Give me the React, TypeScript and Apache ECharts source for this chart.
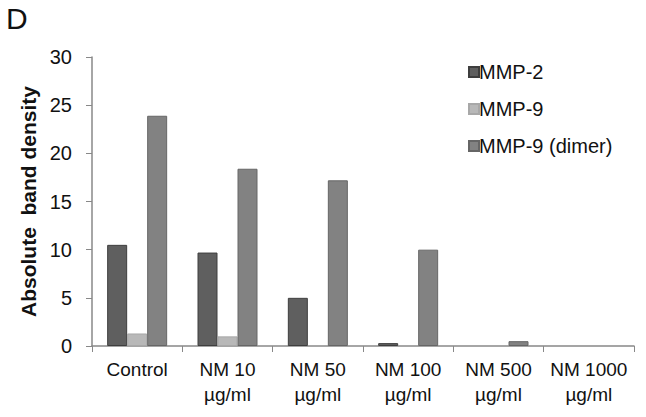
import React, { useEffect, useRef } from "react";
import * as echarts from "echarts";

const categories = ["Control", "NM 10\nµg/ml", "NM 50\nµg/ml", "NM 100\nµg/ml", "NM 500\nµg/ml", "NM 1000\nµg/ml"];
const mmp2 = [10.5, 9.7, 5.0, 0.3, 0, 0];
const mmp9 = [1.3, 1.0, 0, 0, 0, 0];
const mmp9dimer = [23.9, 18.4, 17.2, 10.0, 0.5, 0];
const seriesNames = ["MMP-2", "MMP-9", "MMP-9 (dimer)"];

const FONT = "'Liberation Sans', Arial, sans-serif";

export default function App() {
  const ref = useRef<HTMLDivElement>(null);
  useEffect(() => {
    const chart = echarts.init(ref.current!, null, { renderer: "svg" });
    const mk = (name: string, data: number[], color: string, border: string) => ({
      type: "bar",
      name,
      data: data.map((v) => (v === 0 ? { value: v, itemStyle: { borderWidth: 0 } } : v)),
      barWidth: 20,
      barGap: "0%",
      itemStyle: { color, borderColor: border, borderWidth: 1 },
    });
    chart.setOption({
      animation: false,
      backgroundColor: "#ffffff",
      textStyle: { fontFamily: FONT },
      graphic: [
        {
          type: "text",
          left: 6,
          top: 3,
          style: { text: "D", font: `30px ${FONT}`, fill: "#111" },
        },
      ],
      legend: {
        orient: "vertical",
        left: 463,
        top: 57,
        itemWidth: 10,
        itemHeight: 10,
        itemGap: 17,
        icon: "rect",
        textStyle: { fontSize: 20, color: "#111", fontFamily: FONT, padding: [0, 0, 0, -5] },
        data: seriesNames,
      },
      grid: { left: 92, right: 12, top: 57, bottom: 71 },
      xAxis: {
        type: "category",
        data: categories,
        axisLine: { lineStyle: { color: "#888", width: 1.5 } },
        axisTick: { show: true, length: 6, lineStyle: { color: "#888" } },
        axisLabel: {
          color: "#111",
          fontSize: 19,
          lineHeight: 25,
          margin: 11,
          interval: 0,
          fontFamily: FONT,
        },
      },
      yAxis: {
        type: "value",
        min: 0,
        max: 30,
        interval: 5,
        name: "Absolute  band density",
        nameLocation: "middle",
        nameGap: 52,
        nameTextStyle: { fontSize: 21, fontWeight: "bold", color: "#111", fontFamily: FONT },
        axisLine: { show: true, lineStyle: { color: "#888", width: 1.5 } },
        axisTick: { show: true, length: 6, lineStyle: { color: "#888" } },
        splitLine: { show: false },
        axisLabel: { color: "#111", fontSize: 20, margin: 20, fontFamily: FONT },
      },
      series: [
        mk(seriesNames[0], mmp2, "#5f5f5f", "#3e3e3e"),
        mk(seriesNames[1], mmp9, "#b8b8b8", "#a8a8a8"),
        mk(seriesNames[2], mmp9dimer, "#828282", "#666666"),
      ],
    });
    return () => chart.dispose();
  }, []);
  return <div ref={ref} style={{ width: 646, height: 417, position: "absolute", left: 0, top: 0 }} />;
}
